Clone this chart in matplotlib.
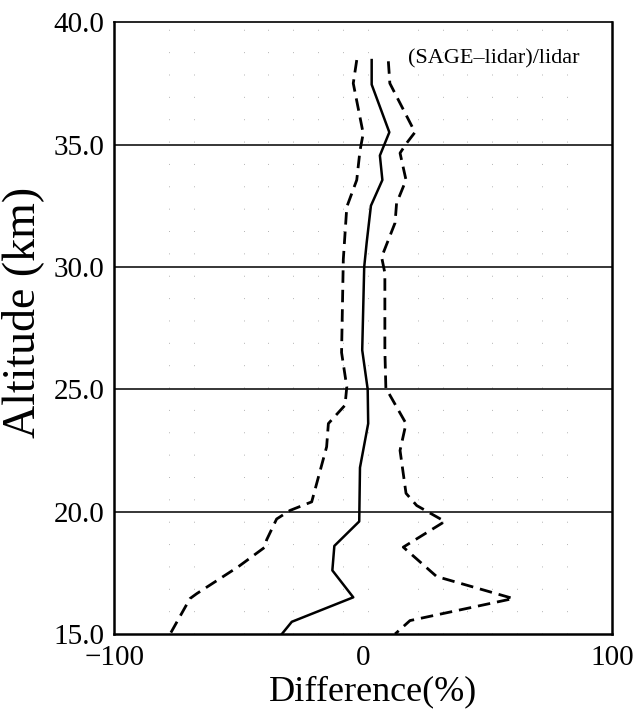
import numpy as np
import matplotlib
matplotlib.use("Agg")
import matplotlib.pyplot as plt

#Data
mean_alt = [38.45, 37.45, 35.5, 34.55, 33.55, 32.5, 31.0, 30.0, 26.6, 25.0, 23.6,
            21.8, 19.6, 18.6, 17.6, 16.5, 15.5, 15.0]
mean_diff = [3.5, 3.5, 10.6, 6.8, 7.8, 3.2, 1.5, 0.5, -0.3, 1.9, 2.1,
             -1.2, -1.5, -11.5, -12.3, -3.9, -28.6, -32.6]

low_alt = [38.45, 37.5, 35.45, 34.75, 33.55, 32.45, 30.3, 26.5, 25.1, 24.35, 23.6,
           22.65, 20.4, 20.05, 19.7, 18.85, 18.55, 17.75, 16.65, 16.45, 15.0]
low_diff = [-2.5, -3.9, 0.1, -1.2, -2.5, -6.5, -7.9, -8.6, -6.5, -7.2, -13.9,
            -14.6, -20.6, -29.3, -34.7, -38.7, -39.4, -50.1, -66.8, -69.5, -77.5]

high_alt = [38.4, 37.5, 35.5, 35.05, 34.65, 33.55, 32.6, 31.8, 30.4, 29.75, 26.6,
            25.05, 23.6, 22.5, 20.75, 20.25, 19.6, 18.55, 17.35, 16.45, 15.55, 15.0]
high_diff = [10.2, 10.8, 20.9, 17.5, 14.9, 17.3, 13.5, 12.9, 7.5, 8.8, 8.8,
             9.2, 17.3, 14.9, 17.3, 21.6, 32.9, 16.2, 29.6, 60.4, 18.9, 12.9]

x_ticks = [-100, 0, 100]
y_ticks = [15, 20, 25, 30, 35, 40]
grid_alt = [20, 25, 30, 35]
faint_x = [-78, -68, -48, -38, -28, -18, -8, 2, 22, 32, 42, 52, 62, 72, 82]

plt.rcParams["font.family"] = ["Liberation Serif", "DejaVu Serif"]

fig = plt.figure(figsize=(6.34, 7.14), dpi=100)
ax = fig.add_axes([0.180, 0.112, 0.785, 0.857])

#faint dotted remains of the vertical grid in the scan
for xv in faint_x:
    ax.axvline(xv, color="0.7", lw=0.7, linestyle=(0, (1, 22)), zorder=1)

for a in grid_alt:
    ax.axhline(a, color="black", lw=1.1, zorder=2)

ax.plot(mean_diff, mean_alt, color="black", lw=1.8, zorder=3)
ax.plot(low_diff, low_alt, color="black", lw=2.0, linestyle=(0, (4.5, 2.5)), zorder=3)
ax.plot(high_diff, high_alt, color="black", lw=2.0, linestyle=(0, (4.5, 2.5)), zorder=3)

ax.set_xlim(-100, 100)
ax.set_ylim(15, 40)
ax.set_xticks(x_ticks)
ax.set_xticklabels(["\u2212100", "0", "100"])
ax.set_yticks(y_ticks)
ax.set_yticklabels([f"{v:.1f}" for v in y_ticks])
ax.tick_params(length=0, labelsize=21)
ax.tick_params(axis="y", pad=7)
ax.tick_params(axis="x", pad=8)

for s in ax.spines.values():
    s.set_linewidth(1.8)
ax.spines["top"].set_linewidth(1.2)

ax.set_xlabel("Difference(%)", fontsize=26)
ax.xaxis.set_label_coords(0.52, -0.068, transform=ax.transAxes)
ax.xaxis.label.set_va("top")
ax.set_ylabel("Altitude (km)", fontsize=33)
ax.yaxis.set_label_coords(-0.14, 0.525, transform=ax.transAxes)

ax.text(0.59, 0.94, "(SAGE\u2013lidar)/lidar", transform=ax.transAxes,
        fontsize=16, ha="left", va="center")

fig.savefig("out.png", dpi=100)
